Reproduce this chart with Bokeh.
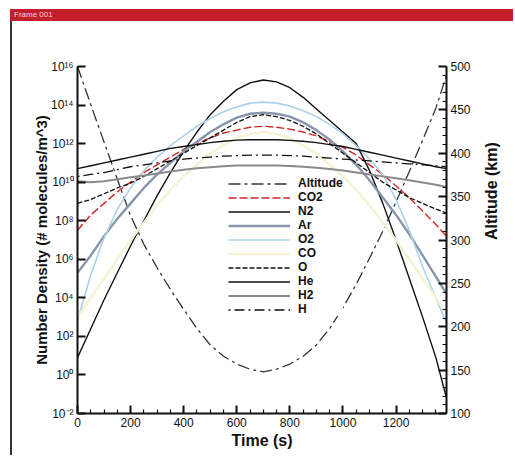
import math
from bokeh.plotting import figure
from bokeh.models import Range1d, LinearAxis, LinearScale, FixedTicker, Legend, LegendItem, Div
from bokeh.layouts import column
from bokeh.embed import file_html
from bokeh.resources import INLINE

# ---- data ----
time_s = [0, 50, 100, 150, 200, 250, 300, 350, 400, 450, 500, 550, 600, 650, 700,
          750, 800, 850, 900, 950, 1000, 1050, 1100, 1150, 1200, 1250, 1300, 1350, 1390]

altitude_km = [500, 456, 413, 370, 328, 295, 268, 243, 220, 198, 179, 166, 157, 151, 148,
               151, 157, 166, 179, 198, 222, 249, 279, 310, 344, 379, 415, 452, 490]

# number densities given as log10 exponents (# molecules / m^3)
co2_exp = [7.5, 8.3, 8.9, 9.5, 10.0, 10.5, 10.9, 11.3, 11.7, 12.0, 12.3, 12.55, 12.7, 12.85, 12.9,
           12.85, 12.75, 12.6, 12.4, 12.1, 11.8, 11.4, 10.9, 10.4, 9.8, 9.2, 8.5, 7.8, 7.2]
n2_exp = [0.9, 2.4, 3.9, 5.3, 6.7, 8.0, 9.3, 10.5, 11.6, 12.6, 13.5, 14.2, 14.8, 15.15, 15.3,
          15.2, 14.9, 14.4, 13.8, 13.2, 12.6, 12.0, 10.6, 8.9, 7.0, 5.0, 3.0, 0.9, -1.2]
ar_exp = [5.3, 6.2, 7.2, 8.1, 8.9, 9.7, 10.4, 11.0, 11.6, 12.1, 12.6, 13.0, 13.35, 13.55, 13.6,
          13.55, 13.4, 13.1, 12.7, 12.2, 11.6, 10.9, 10.1, 9.2, 8.3, 7.3, 6.2, 5.1, 4.2]
o2_exp = [2.8, 5.2, 7.1, 8.6, 9.7, 10.6, 11.3, 11.9, 12.4, 12.9, 13.3, 13.65, 13.9, 14.1, 14.15,
          14.1, 13.95, 13.7, 13.4, 13.0, 12.5, 11.9, 11.2, 10.4, 9.1, 7.5, 5.6, 4.0, 2.7]
co_exp = [3.0, 4.0, 5.0, 6.0, 7.0, 7.9, 8.8, 9.6, 10.3, 10.9, 11.5, 11.9, 12.3, 12.5, 12.6,
          12.5, 12.3, 11.9, 11.5, 10.9, 10.3, 9.6, 8.8, 7.9, 7.0, 6.0, 5.0, 4.0, 3.2]
o_exp = [8.9, 9.1, 9.4, 9.7, 9.95, 10.3, 10.7, 11.1, 11.5, 11.9, 12.3, 12.7, 13.1, 13.4, 13.5,
         13.4, 13.2, 12.9, 12.5, 12.0, 11.5, 11.0, 10.5, 10.0, 9.6, 9.2, 8.9, 8.6, 8.4]
he_exp = [10.7, 10.85, 11.0, 11.15, 11.3, 11.45, 11.6, 11.75, 11.85, 11.95, 12.05, 12.12, 12.18, 12.2, 12.2,
          12.2, 12.17, 12.12, 12.05, 11.95, 11.85, 11.7, 11.55, 11.4, 11.25, 11.1, 10.95, 10.8, 10.7]
h2_exp = [10.05, 10.0, 10.05, 10.15, 10.25, 10.35, 10.45, 10.55, 10.65, 10.72, 10.78, 10.83, 10.86, 10.87, 10.87,
          10.86, 10.84, 10.8, 10.75, 10.68, 10.6, 10.5, 10.4, 10.3, 10.2, 10.1, 9.98, 9.87, 9.75]
h_exp = [10.3, 10.4, 10.5, 10.65, 10.8, 10.9, 11.0, 11.1, 11.2, 11.25, 11.3, 11.35, 11.38, 11.4, 11.4,
         11.4, 11.38, 11.35, 11.3, 11.25, 11.2, 11.15, 11.1, 11.05, 11.0, 10.95, 10.9, 10.85, 10.8]

x_ticks = [0, 200, 400, 600, 800, 1000, 1200]
density_ticks = [1e-2, 1e0, 1e2, 1e4, 1e6, 1e8, 1e10, 1e12, 1e14, 1e16]
density_tick_labels = ["10⁻²", "10⁰", "10²", "10⁴", "10⁶", "10⁸", "10¹⁰", "10¹²", "10¹⁴", "10¹⁶"]
alt_ticks = [100, 150, 200, 250, 300, 350, 400, 450, 500]

FONT = "Liberation Sans"


def dens(exps):
    return [10 ** e for e in exps]


p = figure(width=499, height=434, x_range=Range1d(0, 1390), y_range=Range1d(1e-2, 1e16),
           y_axis_type="log", output_backend="svg", toolbar_location=None,
           min_border_left=65, min_border_right=49, min_border_top=45, min_border_bottom=42,
           margin=0)
p.extra_y_ranges = {"alt": Range1d(100, 500)}
p.extra_y_scales = {"alt": LinearScale()}
p.grid.visible = False
p.outline_line_color = None
p.background_fill_color = "white"

# axes styling
xa = p.xaxis[0]
xa.ticker = FixedTicker(ticks=x_ticks, minor_ticks=list(range(0, 1400, 50)))
xa.axis_label = "Time (s)"
ya = p.yaxis[0]
ya.ticker = FixedTicker(ticks=density_ticks, minor_ticks=[])
ya.major_label_overrides = {t: l for t, l in zip(density_ticks, density_tick_labels)}
ya.axis_label = "Number Density (# molecules/m^3)"

ra = LinearAxis(y_range_name="alt", axis_label="Altitude (km)",
                ticker=FixedTicker(ticks=alt_ticks, minor_ticks=list(range(100, 501, 10))))
p.add_layout(ra, "right")

for ax in (xa, ya, ra):
    ax.axis_line_width = 2
    ax.axis_line_color = "#111111"
    ax.major_tick_in = 8
    ax.major_tick_out = 0
    ax.minor_tick_in = 4
    ax.minor_tick_out = 0
    ax.major_tick_line_width = 2
    ax.minor_tick_line_width = 1.2
    ax.major_tick_line_color = "#111111"
    ax.minor_tick_line_color = "#111111"
    ax.major_label_text_font = FONT
    ax.major_label_text_font_size = "12px"
    ax.major_label_text_color = "#111111"
    ax.axis_label_text_font = FONT
    ax.axis_label_text_font_size = "16px"
    ax.axis_label_text_font_style = "bold"
    ax.axis_label_text_color = "#111111"
    ax.major_label_standoff = 4
    ax.axis_label_standoff = 2

ya.axis_label_text_font_size = "15px"
ya.axis_label_standoff = -2
ra.axis_label_orientation = math.pi / 2
ra.axis_label_standoff = 18

# series
r_alt = p.line(time_s, altitude_km, y_range_name="alt", line_color="#333333", line_width=1.3,
               line_dash="12 4 3 4")
r_co2 = p.line(time_s, dens(co2_exp), line_color="#cc2a2a", line_width=1.4, line_dash="8 3")
r_n2 = p.line(time_s, dens(n2_exp), line_color="#111111", line_width=1.4)
r_ar = p.line(time_s, dens(ar_exp), line_color="#8896ab", line_width=2.4)
r_o2 = p.line(time_s, dens(o2_exp), line_color="#acd2ea", line_width=1.6)
r_co = p.line(time_s, dens(co_exp), line_color="#f6f2d6", line_width=2.5)
r_o = p.line(time_s, dens(o_exp), line_color="#111111", line_width=1.3, line_dash="5 2")
r_he = p.line(time_s, dens(he_exp), line_color="#111111", line_width=1.4)
r_h2 = p.line(time_s, dens(h2_exp), line_color="#8a8a8a", line_width=2)
r_h = p.line(time_s, dens(h_exp), line_color="#111111", line_width=1.3, line_dash="2 4 10 4")

items = [("Altitude", r_alt), ("CO2", r_co2), ("N2", r_n2), ("Ar", r_ar), ("O2", r_o2),
         ("CO", r_co), ("O", r_o), ("He", r_he), ("H2", r_h2), ("H", r_h)]
legend = Legend(items=[LegendItem(label=l, renderers=[r]) for l, r in items],
                location=(151, 97))
legend.label_text_font = FONT
legend.label_text_font_style = "bold"
legend.label_text_font_size = "12px"
legend.label_text_color = "#111111"
legend.label_text_line_height = 1.0
legend.glyph_width = 62
legend.glyph_height = 9
legend.label_height = 11
legend.label_standoff = 8
legend.spacing = -2
legend.padding = 2
legend.margin = 0
legend.border_line_color = None
legend.background_fill_color = "white"
legend.background_fill_alpha = 1
p.add_layout(legend)

p.styles = {"border-left": "2px solid #333333"}

bar = Div(text="Frame 001", width=503, height=12, margin=0,
          styles={"background-color": "#c41e2a", "color": "#f4d6d8", "font-size": "8px",
                  "font-family": FONT, "line-height": "12px", "padding-left": "4px"})

layout = column(bar, p, margin=(9, 0, 0, 10), spacing=0)

open("out.html", "w").write(file_html(layout, INLINE))
